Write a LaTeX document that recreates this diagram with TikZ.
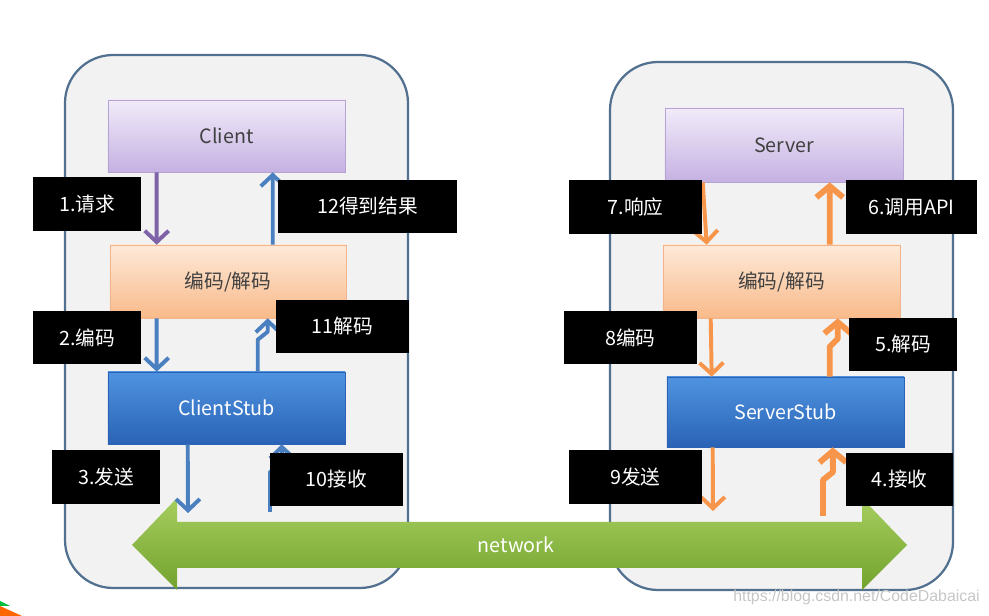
\documentclass[tikz,border=0pt]{standalone}
\usepackage{fontspec}
\setmainfont{Noto Sans CJK SC}
\newfontfamily\wmfont{Liberation Sans}
\usetikzlibrary{arrows.meta}

\definecolor{hostline}{HTML}{52708F}
\definecolor{hostfill}{HTML}{F2F2F2}
\definecolor{clienttop}{HTML}{F1EBF9}
\definecolor{clientbot}{HTML}{C5B1E2}
\definecolor{clientline}{HTML}{B5A3D3}
\definecolor{codectop}{HTML}{FDE9D8}
\definecolor{codecbot}{HTML}{F9BA8A}
\definecolor{codecline}{HTML}{F2B48A}
\definecolor{stubtop}{HTML}{4F93E0}
\definecolor{stubbot}{HTML}{2A63B6}
\definecolor{arrpurple}{HTML}{7E63A8}
\definecolor{arrblue}{HTML}{4A7FC0}
\definecolor{arrorange}{HTML}{F7964A}
\definecolor{nettop}{HTML}{A6CE5E}
\definecolor{netbot}{HTML}{72A22E}
\definecolor{boxtext}{HTML}{404040}

\begin{document}
\begin{tikzpicture}[x=0.025cm,y=-0.025cm,
		every node/.style={font=\fontsize{14}{16}\selectfont,inner sep=0pt},
		host/.style={draw=hostline,line width=1.6pt,fill=hostfill,rounded corners=1.2cm},
		clientbox/.style={draw=clientline,top color=clienttop,bottom color=clientbot,text=boxtext,minimum width=5.925cm,minimum height=1.8cm},
		codecbox/.style={draw=codecline,top color=codectop,bottom color=codecbot,text=boxtext,minimum width=5.9cm,minimum height=1.825cm},
		stubbox/.style={draw=stubbot,top color=stubtop,bottom color=stubbot,text=white,minimum width=5.925cm,minimum height=1.8cm},
		tag/.style={fill=black,text=white,minimum width=#1,minimum height=1.33cm},
		flow/.style={draw=#1,line width=2.8pt,line join=round,-{Straight Barb[length=8pt,width=17pt]}},
		bigflow/.style={draw=arrorange,line width=4.2pt,line join=round,-{Straight Barb[length=8pt,width=19pt]}}]
		\useasboundingbox (0,0) rectangle (989,616);
		% the two hosts
		\draw[host] (65,55) rectangle (408,588);
		\draw[host] (610,62) rectangle (953,590);
		% network
		\shade[top color=nettop,bottom color=netbot]
		(132,545) -- (177,498) -- (177,522) -- (862,522) -- (862,498) -- (907,545)
		-- (862,590) -- (862,568) -- (177,568) -- (177,590) -- cycle;
		\node[text=white] (net) at (516,545) {network};
		% client side
		\node[clientbox] (client) at (226.5,136) {Client};
		\node[codecbox] (codecL) at (228,281.5) {编码/解码};
		\node[stubbox] (cstub) at (226.5,408) {ClientStub};
		% server side
		\node[clientbox,minimum width=5.95cm,minimum height=1.85cm] (server) at (784,145) {Server};
		\node[codecbox,minimum width=5.925cm] (codecR) at (781.5,281.5) {编码/解码};
		\node[stubbox,minimum height=1.75cm] (sstub) at (785.5,412) {ServerStub};
		% free ends on the network
		\coordinate (send3) at (188,513);
		\coordinate (recv10) at (270,512);
		\coordinate (send9) at (713,511);
		\coordinate (recv4) at (823,516);
		% client flows
		\draw[flow=arrpurple] ([xshift=1.225cm]client.south west) -- ([xshift=1.175cm]codecL.north west);
		\draw[flow=arrblue] ([xshift=4.075cm]codecL.north west) -- ([xshift=4.125cm]client.south west);
		\draw[flow=arrblue] ([xshift=1.175cm]codecL.south west) -- ([xshift=1.225cm]cstub.north west);
		\draw[flow=arrblue] ([xshift=3.75cm]cstub.north west) -- ++(0,-32) -- ++(10,-8) -- ([xshift=3.95cm]codecL.south west);
		\draw[flow=arrblue] ([xshift=2cm]cstub.south west) -- (send3);
		\draw[flow=arrblue] (recv10) -- ++(0,-40) -- ++(12,-8) -- ([xshift=4.35cm]cstub.south west);
		% server flows
		\draw[flow=arrorange] ([xshift=0.95cm]server.south west) -- ([xshift=1.1cm]codecR.north west);
		\draw[bigflow] ([xshift=4.175cm]codecR.north west) -- ([xshift=4.125cm]server.south west);
		\draw[flow=arrorange] ([xshift=1.2cm]codecR.south west) -- ([xshift=1.125cm]sstub.north west);
		\draw[bigflow] ([xshift=4.075cm]sstub.north west) -- ++(0,-30) -- ++(8,-8) -- ([xshift=4.375cm]codecR.south west);
		\draw[flow=arrorange] ([xshift=1.15cm]sstub.south west) -- (send9);
		\draw[bigflow] (recv4) -- ++(0,-36) -- ++(10,-8) -- ([xshift=4.15cm]sstub.south west);
		% step labels
		\node[tag=2.7cm] (lb1) at (87,204) {1.请求};
		\node[tag=4.475cm] (lb12) at (367.5,206.5) {12得到结果};
		\node[tag=2.7cm] (lb2) at (87,337.5) {2.编码};
		\node[tag=3.325cm] (lb11) at (342.5,326.5) {11解码};
		\node[tag=2.7cm] (lb3) at (106,477) {3.发送};
		\node[tag=3.325cm] (lb10) at (336.5,479.5) {10接收};
		\node[tag=3.325cm] (lb7) at (635.5,207) {7.响应};
		\node[tag=3.275cm] (lb6) at (911.5,207) {6.调用API};
		\node[tag=3.325cm] (lb8) at (630.5,337.5) {8编码};
		\node[tag=2.7cm] (lb5) at (903,344.5) {5.解码};
		\node[tag=3.325cm] (lb9) at (635.5,477) {9发送};
		\node[tag=2.675cm] (lb4) at (899.5,479.5) {4.接收};
		% corner and watermark
		\fill[orange!80!red] (0,616) -- (0,606) -- (22,616) -- cycle;
		\fill[green!50!teal] (0,606) -- (0,601) -- (10,606) -- cycle;
		\node[text=gray!45,font=\wmfont\fontsize{11.3}{13}\selectfont,anchor=west] (wm) at (733,597) {https://blog.csdn.net/CodeDabaicai};
	\end{tikzpicture}
\end{document}
